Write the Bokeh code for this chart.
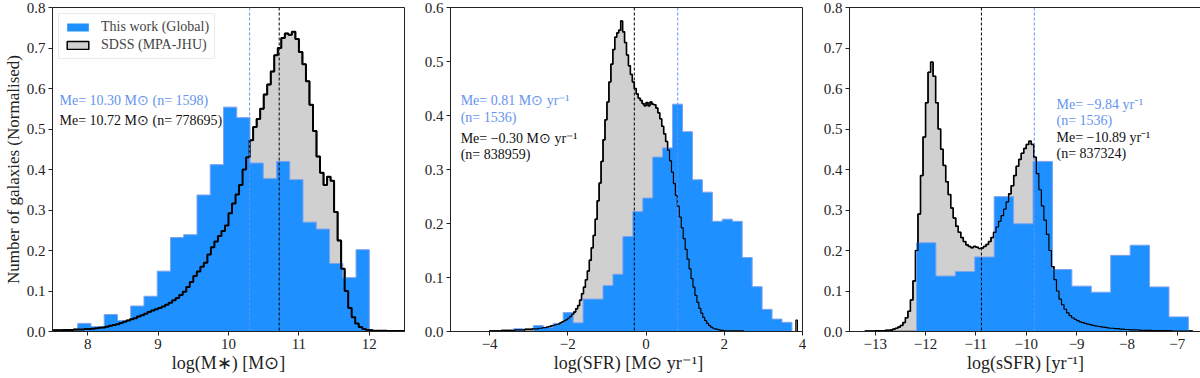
import numpy as np
from bokeh.plotting import figure
from bokeh.layouts import row
from bokeh.models import (Range1d, FixedTicker, PrintfTickFormatter, CustomJSTickFormatter,
                          Span, Label, Legend, LegendItem)
from bokeh.embed import file_html
from bokeh.resources import INLINE

FONT = "Liberation Serif"
BLUE = "#1E90FF"
BLUE_EDGE = "#7FA3EE"
MED_BLUE = "#6495ED"
GRAY = "#D0D0D0"

# ---------------- data: stellar mass ----------------
mass_global_lo, mass_global_hi = 7.858, 12.0
mass_global = [0.020, 0.012, 0.042, 0.027, 0.063, 0.087, 0.149, 0.232, 0.239, 0.337,
               0.412, 0.554, 0.528, 0.416, 0.378, 0.420, 0.375, 0.270, 0.253, 0.168,
               0.133, 0.202]
mass_sdss_lo, mass_sdss_bw = 7.5, 0.05
mass_sdss = [0.003, 0.003, 0.003, 0.004, 0.004, 0.004, 0.005, 0.005, 0.005, 0.006,
             0.006, 0.007, 0.008, 0.009, 0.010, 0.012, 0.014, 0.016, 0.018, 0.021,
             0.024, 0.027, 0.030, 0.033, 0.037, 0.040, 0.044, 0.048, 0.052, 0.055,
             0.058, 0.062, 0.066, 0.071, 0.077, 0.083, 0.090, 0.098, 0.110, 0.122,
             0.137, 0.148, 0.160, 0.170, 0.190, 0.208, 0.222, 0.236, 0.248, 0.262,
             0.292, 0.316, 0.338, 0.362, 0.400, 0.430, 0.472, 0.505, 0.525, 0.550,
             0.585, 0.610, 0.642, 0.682, 0.700, 0.725, 0.736, 0.733, 0.740, 0.722,
             0.690, 0.660, 0.618, 0.560, 0.495, 0.432, 0.392, 0.362, 0.382, 0.372,
             0.295, 0.225, 0.155, 0.100, 0.058, 0.035, 0.020, 0.011, 0.006, 0.004,
             0.003, 0.002, 0.002, 0.002, 0.002, 0.001, 0.001, 0.001, 0.001, 0.001]
me_mass = {"global": 10.30, "sdss": 10.72}
n_mass = {"global": 1598, "sdss": 778695}

# ---------------- data: SFR ----------------
sfr_global_lo, sfr_global_hi = -3.39, 3.73
sfr_global = [0.005, 0.000, 0.011, 0.008, 0.015, 0.035, 0.016, 0.060, 0.060, 0.085,
              0.106, 0.176, 0.222, 0.247, 0.323, 0.340, 0.421, 0.370, 0.281, 0.258,
              0.204, 0.208, 0.204, 0.137, 0.083, 0.041, 0.023, 0.017]
sfr_sdss_lo, sfr_sdss_bw = -4.0, 0.05
sfr_sdss = [0.001, 0.001, 0.001, 0.001, 0.001, 0.001, 0.002, 0.002, 0.002, 0.002,
            0.002, 0.002, 0.002, 0.003, 0.003, 0.003, 0.003, 0.003, 0.004, 0.004,
            0.004, 0.004, 0.005, 0.005, 0.005, 0.006, 0.006, 0.007, 0.007, 0.008,
            0.009, 0.010, 0.011, 0.012, 0.013, 0.014, 0.016, 0.018, 0.020, 0.022,
            0.025, 0.028, 0.032, 0.036, 0.042, 0.048, 0.058, 0.070, 0.082, 0.096,
            0.112, 0.132, 0.155, 0.178, 0.208, 0.242, 0.275, 0.315, 0.355, 0.392,
            0.425, 0.462, 0.495, 0.522, 0.545, 0.553, 0.558, 0.575, 0.555, 0.535,
            0.512, 0.492, 0.476, 0.462, 0.450, 0.440, 0.432, 0.428, 0.422, 0.418,
            0.424, 0.418, 0.425, 0.421, 0.420, 0.414, 0.405, 0.394, 0.380, 0.366,
            0.352, 0.336, 0.316, 0.295, 0.274, 0.252, 0.232, 0.212, 0.192, 0.172,
            0.152, 0.134, 0.116, 0.098, 0.082, 0.067, 0.054, 0.043, 0.034, 0.026,
            0.020, 0.015, 0.011, 0.008, 0.006, 0.005, 0.004, 0.003, 0.002, 0.002,
            0.001, 0.001, 0.001, 0.001, 0.001, 0.001, 0.001, 0.001, 0.001, 0.001]
sfr_sdss_outlier_edges = [3.83, 3.87]
sfr_sdss_outlier = [0.021]
me_sfr = {"global": 0.81, "sdss": -0.30}
n_sfr = {"global": 1536, "sdss": 838959}

# ---------------- data: sSFR ----------------
ssfr_global_lo, ssfr_global_hi = -12.18, -6.78
ssfr_global = [0.219, 0.137, 0.148, 0.184, 0.333, 0.266, 0.420, 0.153, 0.112, 0.097,
               0.188, 0.213, 0.110, 0.036]
ssfr_sdss_lo, ssfr_sdss_bw = -13.2, 0.05
ssfr_sdss = [0.001, 0.001, 0.001, 0.001, 0.002, 0.002, 0.002, 0.002, 0.003, 0.003,
             0.004, 0.006, 0.008, 0.011, 0.015, 0.022, 0.034, 0.050, 0.078, 0.125,
             0.200, 0.290, 0.385, 0.480, 0.565, 0.640, 0.665, 0.630, 0.565, 0.500,
             0.450, 0.410, 0.370, 0.338, 0.305, 0.280, 0.260, 0.245, 0.232, 0.222,
             0.214, 0.210, 0.207, 0.210, 0.208, 0.205, 0.206, 0.210, 0.215, 0.222,
             0.232, 0.245, 0.258, 0.272, 0.286, 0.302, 0.320, 0.340, 0.360, 0.385,
             0.408, 0.425, 0.440, 0.452, 0.462, 0.470, 0.462, 0.430, 0.390, 0.350,
             0.310, 0.275, 0.240, 0.200, 0.160, 0.128, 0.100, 0.080, 0.066, 0.055,
             0.046, 0.039, 0.034, 0.030, 0.027, 0.024, 0.022, 0.020, 0.018, 0.017,
             0.015, 0.014, 0.013, 0.012, 0.011, 0.010, 0.009, 0.008, 0.008, 0.007,
             0.007, 0.006, 0.006, 0.005, 0.005, 0.004, 0.004, 0.004, 0.004, 0.003,
             0.003, 0.003, 0.003, 0.003, 0.002, 0.002, 0.002, 0.002, 0.002, 0.002,
             0.002, 0.002, 0.001, 0.001, 0.001, 0.001, 0.001, 0.001, 0.001, 0.001]
me_ssfr = {"global": -9.84, "sdss": -10.89}
n_ssfr = {"global": 1536, "sdss": 837324}

FRAME_W, FRAME_H = 352, 324


def step_xy(edges, vals):
    xs, ys = [edges[0]], [0.0]
    for i, v in enumerate(vals):
        xs += [edges[i], edges[i + 1]]
        ys += [v, v]
    xs.append(edges[-1])
    ys.append(0.0)
    return xs, ys


def make_fig(xr, yr, xticks, left_border, right_border, ylabel=None, xlabel=""):
    p = figure(frame_width=FRAME_W, frame_height=FRAME_H, x_range=Range1d(*xr), y_range=Range1d(*yr),
               output_backend="svg", toolbar_location=None,
               min_border_left=left_border, min_border_right=right_border,
               min_border_top=7, min_border_bottom=46)
    p.xgrid.visible = False
    p.ygrid.visible = False
    p.outline_line_color = "#222222"
    p.outline_line_width = 1
    p.background_fill_color = "white"
    p.xaxis.ticker = FixedTicker(ticks=xticks)
    p.yaxis.ticker = FixedTicker(ticks=[round(0.1 * i, 1) for i in range(9)])
    p.yaxis.formatter = PrintfTickFormatter(format="%.1f")
    p.xaxis.formatter = CustomJSTickFormatter(
        code="return (tick < 0 ? '\u2212' : '') + Math.abs(tick).toFixed(0);")
    for ax in (p.xaxis[0], p.yaxis[0]):
        ax.major_tick_out = 4
        ax.major_tick_in = 0
        ax.minor_tick_out = 0
        ax.minor_tick_in = 0
        ax.axis_line_color = "#222222"
        ax.major_tick_line_color = "#222222"
        ax.major_label_text_font = FONT
        ax.major_label_text_font_size = "15px"
        ax.major_label_text_color = "#222222"
        ax.major_label_standoff = 3
        ax.axis_label_text_font = FONT
        ax.axis_label_text_font_size = "18px"
        ax.axis_label_text_font_style = "normal"
        ax.axis_label_text_color = "#222222"
        ax.axis_label_standoff = 1
    p.xaxis.axis_label = xlabel
    if ylabel:
        p.yaxis.axis_label = ylabel
        p.yaxis.axis_label_text_font_size = "17px"
    return p


def draw_hists(p, g_lo, g_hi, g_vals, s_lo, s_bw, s_vals, sdss_lw, me, extra=None):
    g_edges = np.linspace(g_lo, g_hi, len(g_vals) + 1)
    s_edges = s_lo + s_bw * np.arange(len(s_vals) + 1)
    sx, sy = step_xy(list(s_edges), s_vals)
    gx, gy = step_xy(list(g_edges), g_vals)
    r_gray = p.patch(sx, sy, fill_color=GRAY, line_color="black", line_width=1.5)
    r_blue = p.patch(gx, gy, fill_color=BLUE, line_color=None)
    p.line(gx, gy, line_color=BLUE_EDGE, line_width=1)
    p.line(sx, sy, line_color="black", line_width=sdss_lw)
    if extra is not None:
        ex, ey = step_xy(extra[0], extra[1])
        p.line(ex, ey, line_color="black", line_width=sdss_lw)
    p.add_layout(Span(location=me["global"], dimension="height", line_color=MED_BLUE,
                      line_dash="3 2", line_width=1))
    p.add_layout(Span(location=me["sdss"], dimension="height", line_color="black",
                      line_dash="3 2", line_width=1))
    return r_blue, r_gray


def add_text(p, x, y, txt, color):
    p.add_layout(Label(x=x, y=y, text=txt, text_color=color, text_font=FONT,
                       text_font_size="14px", text_baseline="middle", text_align="left"))


def fmt_minus(v):
    return ("\u2212%.2f" % abs(v)) if v < 0 else ("%.2f" % v)


# ---------- panel 1 ----------
p1 = make_fig((7.5, 12.5), (0, 0.8), [8, 9, 10, 11, 12], 48, 3,
              ylabel="Number of galaxies (Normalised)", xlabel="log(M\u2217) [M\u2299]")
rb, rg = draw_hists(p1, mass_global_lo, mass_global_hi, mass_global,
                    mass_sdss_lo, mass_sdss_bw, mass_sdss, 2.0, me_mass)
add_text(p1, 7.6, 0.571, "Me= %.2f M\u2299 (n= %d)" % (me_mass["global"], n_mass["global"]), MED_BLUE)
add_text(p1, 7.6, 0.522, "Me= %.2f M\u2299 (n= %d)" % (me_mass["sdss"], n_mass["sdss"]), "#111111")
leg = Legend(items=[LegendItem(label="This work (Global)", renderers=[rb]),
                    LegendItem(label="SDSS (MPA-JHU)", renderers=[rg])],
             location="top_left", label_text_font=FONT, label_text_font_size="14px",
             glyph_width=27, glyph_height=10, label_standoff=10, padding=5, spacing=2,
             margin=6, border_line_color="#D8D8D8", border_line_width=1,
             background_fill_alpha=0.85)
p1.add_layout(leg)

# ---------- panel 2 ----------
p2 = make_fig((-5, 4), (0, 0.6), [-4, -2, 0, 2, 4], 43, 4,
              xlabel="log(SFR) [M\u2299 yr\u207b\u00b9]")
draw_hists(p2, sfr_global_lo, sfr_global_hi, sfr_global,
           sfr_sdss_lo, sfr_sdss_bw, sfr_sdss, 1.2, me_sfr,
           extra=(sfr_sdss_outlier_edges, sfr_sdss_outlier))
add_text(p2, -4.74, 0.428, "Me= %s M\u2299 yr\u207b\u00b9" % fmt_minus(me_sfr["global"]), MED_BLUE)
add_text(p2, -4.74, 0.397, "(n= %d)" % n_sfr["global"], MED_BLUE)
add_text(p2, -4.74, 0.358, "Me= %s M\u2299 yr\u207b\u00b9" % fmt_minus(me_sfr["sdss"]), "#111111")
add_text(p2, -4.74, 0.327, "(n= %d)" % n_sfr["sdss"], "#111111")

# ---------- panel 3 ----------
p3 = make_fig((-13.51, -6.52), (0, 0.8), [-13, -12, -11, -10, -9, -8, -7], 43, 1,
              xlabel="log(sSFR) [yr\u207b\u00b9]")
draw_hists(p3, ssfr_global_lo, ssfr_global_hi, ssfr_global,
           ssfr_sdss_lo, ssfr_sdss_bw, ssfr_sdss, 1.2, me_ssfr)
add_text(p3, -9.40, 0.561, "Me= %s yr\u207b\u00b9" % fmt_minus(me_ssfr["global"]), MED_BLUE)
add_text(p3, -9.40, 0.522, "(n= %d)" % n_ssfr["global"], MED_BLUE)
add_text(p3, -9.40, 0.478, "Me= %s yr\u207b\u00b9" % fmt_minus(me_ssfr["sdss"]), "#111111")
add_text(p3, -9.40, 0.439, "(n= %d)" % n_ssfr["sdss"], "#111111")

layout = row(p1, p2, p3, spacing=0)
open("out.html", "w").write(file_html(layout, INLINE))
